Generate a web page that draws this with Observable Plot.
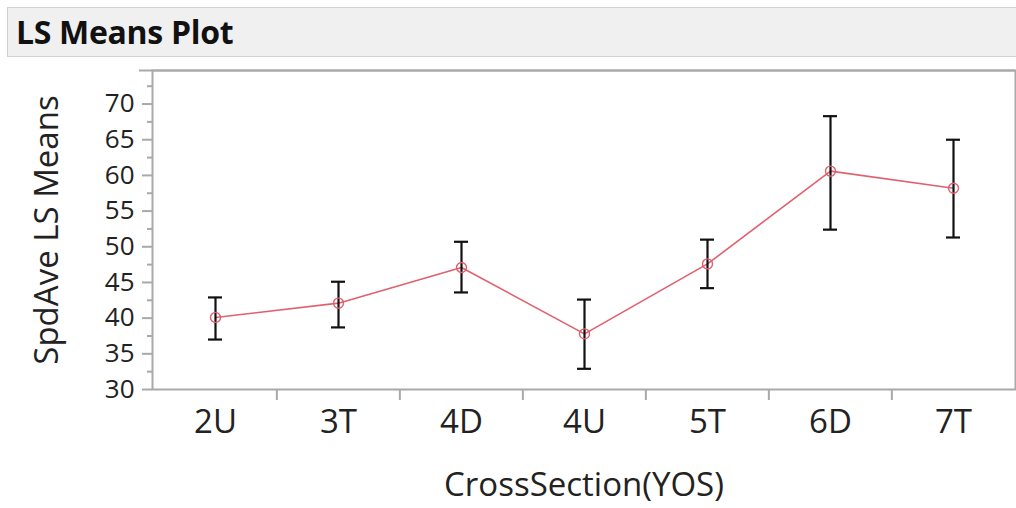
<!DOCTYPE html>
<html><head><meta charset="utf-8">
<script src="https://cdn.jsdelivr.net/npm/d3@7"></script>
<script src="https://cdn.jsdelivr.net/npm/@observablehq/plot@0.6"></script>
<style>
body{margin:0;background:#fff;font-family:"Open Sans","Noto Sans",sans-serif;}
#wrap{position:relative;width:1016px;height:508px;overflow:hidden;}
#title{position:absolute;left:7px;top:7px;width:1020px;height:50px;background:#f0f0f0;border:1px solid #d2d2d2;box-sizing:border-box;font-weight:bold;font-size:32px;line-height:47px;padding-left:8px;color:#111;letter-spacing:-0.3px;}
#chart{position:absolute;left:0;top:0;}
</style></head>
<body><div id="wrap"><div id="title">LS Means Plot</div><div id="chart"></div></div>
<script>
const categories = ["2U","3T","4D","4U","5T","6D","7T"];
const means = [40.1, 42.1, 47.1, 37.8, 47.6, 60.6, 58.2];
const upper = [42.9, 45.1, 50.7, 42.6, 51.0, 68.3, 65.0];
const lower = [37.0, 38.7, 43.6, 32.9, 44.2, 52.4, 51.3];
const majorTicks = [30,35,40,45,50,55,60,65,70];
const minorTicks = [32.5,37.5,42.5,47.5,52.5,57.5,62.5,67.5,72.5];

const data = categories.map((c,i)=>({c, m:means[i], hi:upper[i], lo:lower[i]}));
const W = 1016, H = 508, mL = 152, mR = 1, mT = 70, mB = 119;
const step = (W - mL - mR) / categories.length;
const gray = "#a9a9a9";
const red = "#e0606e";

const plot = Plot.plot({
  width: W, height: H,
  marginLeft: mL, marginRight: mR, marginTop: mT, marginBottom: mB,
  style: {fontFamily: "'Open Sans','Noto Sans',sans-serif", fontSize: "33px", color: "#222", background: "transparent"},
  x: {type: "point", domain: categories, padding: 0.5},
  y: {domain: [30, 74.7]},
  marks: [
    Plot.frame({stroke: gray, strokeWidth: 2}),
    Plot.ruleY([74.7], {stroke: gray, strokeWidth: 2, insetLeft: -13}),
    Plot.axisY({ticks: majorTicks, tickSize: 10, tickPadding: 8, stroke: gray, strokeWidth: 2, fontSize: 26, fill: "#222", label: null}),
    Plot.axisY({ticks: [], label: "SpdAve LS Means", labelAnchor: "center", labelArrow: "none", labelOffset: 118, fontSize: 33, fill: "#222"}),
    Plot.axisY({ticks: minorTicks, tickSize: 5, tickFormat: () => "", stroke: gray, strokeWidth: 2, label: null}),
    Plot.axisX({tickSize: 0, tickPadding: 20, label: "CrossSection(YOS)", labelAnchor: "center", labelArrow: "none", labelOffset: 106, fill: "#222"}),
    Plot.ruleX(categories.slice(1), {x: d => d, y1: 30, y2: 30, dx: -step/2, insetBottom: -11, stroke: gray, strokeWidth: 2}),
    Plot.line(data, {x: "c", y: "m", stroke: red, strokeWidth: 1.6}),
    Plot.ruleX(data, {x: "c", y1: "lo", y2: "hi", stroke: "#111", strokeWidth: 2.2}),
    Plot.ruleY(data, {x1: "c", x2: "c", y: "hi", stroke: "#111", strokeWidth: 2.2, insetLeft: -7, insetRight: -7}),
    Plot.ruleY(data, {x1: "c", x2: "c", y: "lo", stroke: "#111", strokeWidth: 2.2, insetLeft: -7, insetRight: -7}),
    Plot.dot(data, {x: "c", y: "m", r: 5, stroke: red, strokeWidth: 1.4, fill: "none"})
  ]
});
document.getElementById("chart").appendChild(plot);
</script></body></html>
